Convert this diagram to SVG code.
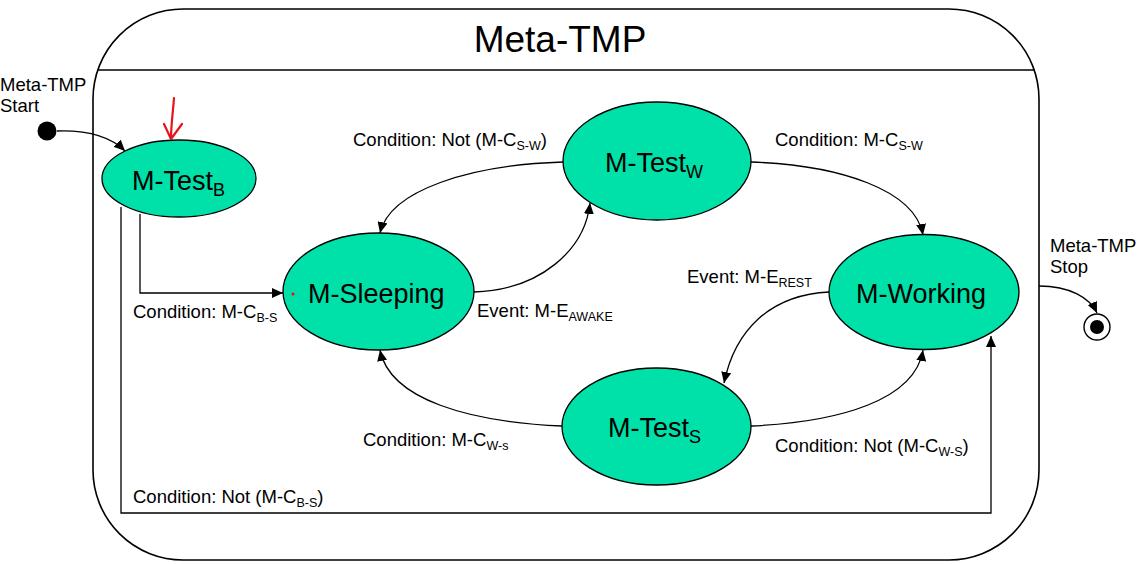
<svg xmlns="http://www.w3.org/2000/svg" width="1142" height="564" viewBox="0 0 1142 564">
<defs>
<marker id="ah" markerUnits="userSpaceOnUse" markerWidth="12" markerHeight="10" refX="11" refY="5" orient="auto">
<path d="M0,0 L11,5 L0,10 Z" fill="#000"/>
</marker>
<style>
.frame{fill:none;stroke:#000;stroke-width:1.6}
.st{fill:#00E0A9;stroke:#000;stroke-width:1.3}
.nt{font-family:"Liberation Sans",Arial,sans-serif;font-size:27px;fill:#000}
.lb{font-family:"Liberation Sans",Arial,sans-serif;font-size:18.5px;fill:#000}
.c{fill:none;stroke:#000;stroke-width:1.3;marker-end:url(#ah)}
</style>
</defs>
<rect fill="#fff" width="1142" height="564"/>
<g id="frame">
<rect class="frame" x="93" y="9" width="946" height="551" rx="90" ry="90"/>
<line class="frame" x1="97" y1="70" x2="1035" y2="70" stroke-width="1.4"/>
<text x="560" y="52" text-anchor="middle" font-family="Liberation Sans,Arial,sans-serif" font-size="37">Meta-TMP</text>
</g>
<g id="start">
<circle cx="47" cy="131" r="9.5" fill="#000"/>
<text class="lb" font-size="19.5"><tspan x="0" y="91">Meta-TMP</tspan><tspan x="0" y="112">Start</tspan></text>
</g>
<g id="stop">
<circle cx="1097" cy="327" r="13" fill="#fff" stroke="#000" stroke-width="1.4"/>
<circle cx="1097" cy="327" r="7" fill="#000"/>
<text class="lb" font-size="19.5"><tspan x="1050" y="252">Meta-TMP</tspan><tspan x="1050" y="273">Stop</tspan></text>
</g>
<g id="testB">
<ellipse class="st" cx="179" cy="178.5" rx="77" ry="38.5"/>
<text class="nt" x="132" y="190">M-Test<tspan font-size="18" dy="6">B</tspan></text>
</g>
<g id="sleeping">
<ellipse class="st" cx="378.5" cy="291.5" rx="95.5" ry="58.5"/>
<text class="nt" x="308" y="303">M-Sleeping</text>
<circle cx="293" cy="294" r="1.5" fill="#f00"/>
</g>
<g id="testW">
<ellipse class="st" cx="657" cy="161" rx="94" ry="59"/>
<text class="nt" x="605" y="172">M-Test<tspan font-size="18" dy="6">W</tspan></text>
</g>
<g id="working">
<ellipse class="st" cx="924" cy="292" rx="95" ry="57.5"/>
<text class="nt" x="856" y="303" font-size="27.5">M-Working</text>
</g>
<g id="testS">
<ellipse class="st" cx="656.5" cy="426.5" rx="94.5" ry="58.5"/>
<text class="nt" x="608" y="437">M-Test<tspan font-size="18" dy="6">S</tspan></text>
</g>
<g id="connectors">
<path class="c" d="M57,131 C90,130 112,138 125,151"/>
<path class="c" d="M140,214 V293 H283"/>
<path class="c" d="M121,207 V513 H991 V336"/>
<path class="c" d="M474,292 C540,290 585,250 590,203"/>
<path class="c" d="M563,162 C470,165 390,190 380,233"/>
<path class="c" d="M751,162 C840,165 915,190 923,235"/>
<path class="c" d="M829,292 C770,295 735,330 724,383"/>
<path class="c" d="M562,426 C470,422 390,400 380,350"/>
<path class="c" d="M751,426 C840,422 915,400 923,350"/>
<path class="c" d="M1039,286 C1070,286 1090,298 1097,313"/>
</g>
<g id="labels">
<text class="lb" x="353" y="146">Condition: Not (M-C<tspan font-size="12.5" dy="4">S-W</tspan><tspan dy="-4">)</tspan></text>
<text class="lb" x="775" y="146">Condition: M-C<tspan font-size="12.5" dy="4">S-W</tspan></text>
<text class="lb" x="477" y="317">Event: M-E<tspan font-size="12.5" dy="4">AWAKE</tspan></text>
<text class="lb" x="687" y="283">Event: M-E<tspan font-size="12.5" dy="4">REST</tspan></text>
<text class="lb" x="133" y="318">Condition: M-C<tspan font-size="12.5" dy="4">B-S</tspan></text>
<text class="lb" x="363" y="446">Condition: M-C<tspan font-size="12.5" dy="4">W-s</tspan></text>
<text class="lb" x="775" y="452">Condition: Not (M-C<tspan font-size="12.5" dy="4">W-S</tspan><tspan dy="-4">)</tspan></text>
<text class="lb" x="133" y="503">Condition: Not (M-C<tspan font-size="12.5" dy="4">B-S</tspan><tspan dy="-4">)</tspan></text>
</g>
<g id="annotation" fill="none" stroke="#e8141c" stroke-width="2.2" stroke-linecap="round" stroke-linejoin="round">
<path d="M174,98 C173,112 171,125 171,139"/>
<path d="M164,124 L171,139 L182,124"/>
</g>
</svg>
